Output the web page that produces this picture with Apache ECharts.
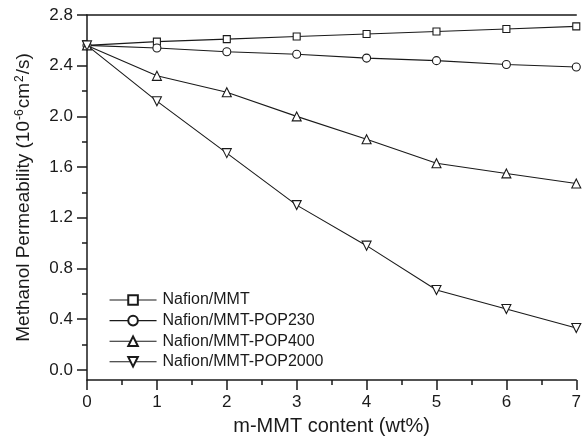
<!DOCTYPE html>
<html>
<head>
    <meta charset="utf-8">
    <title>Methanol Permeability</title>
    <script src="https://cdn.jsdelivr.net/npm/echarts@6/dist/echarts.min.js"></script>
</head>
<body style="margin:0;">
<div id="main" style="width: 584px;height:441px;"></div>
<script type="text/javascript">
    // x: m-MMT content (wt%)
    var xData = [0, 1, 2, 3, 4, 5, 6, 7];
    var names = ['Nafion/MMT', 'Nafion/MMT-POP230', 'Nafion/MMT-POP400', 'Nafion/MMT-POP2000'];
    var mmt = [2.56, 2.59, 2.61, 2.63, 2.65, 2.67, 2.69, 2.71];
    var pop230 = [2.56, 2.54, 2.51, 2.49, 2.46, 2.44, 2.41, 2.39];
    var pop400 = [2.56, 2.32, 2.19, 2.00, 1.82, 1.63, 1.55, 1.47];
    var pop2000 = [2.56, 2.12, 1.71, 1.30, 0.98, 0.63, 0.48, 0.33];
    var yTicks = [0, 0.4, 0.8, 1.2, 1.6, 2.0, 2.4, 2.8];
    var yMinorTicks = [0.2, 0.6, 1.0, 1.4, 1.8, 2.2, 2.6];

    var ink = '#1a1a1a';
    var font = 'Liberation Sans, Arial, sans-serif';

    function pairs(arr) {
        return arr.map(function (v, i) { return [xData[i], v]; });
    }

    function makeSeries(name, arr, symbol, size) {
        return {
            name: name,
            type: 'line',
            data: pairs(arr),
            symbol: symbol,
            symbolSize: size,
            showAllSymbol: true,
            clip: false,
            lineStyle: {color: ink, width: 1.1},
            itemStyle: {color: '#fff', borderColor: ink, borderWidth: 1.1}
        };
    }

    var myChart = echarts.init(document.getElementById('main'));
    var option = {
        animation: false,
        textStyle: {fontFamily: font, color: ink},
        grid: {left: 87, right: 3, top: 15, bottom: 58},
        legend: {
            orient: 'vertical',
            left: 109,
            top: 292,
            padding: 0,
            itemWidth: 47,
            itemHeight: 12,
            itemGap: 4.6,
            lineStyle: {width: 1.1},
            textStyle: {fontFamily: font, fontSize: 16, color: ink, padding: [0, 0, 0, 1]},
            data: names
        },
        xAxis: [{
            type: 'value',
            min: 0,
            max: 7,
            interval: 1,
            name: 'm-MMT content (wt%)',
            nameLocation: 'middle',
            nameGap: 36,
            nameTextStyle: {fontFamily: font, fontSize: 20, color: ink},
            axisLine: {onZero: false, lineStyle: {color: ink, width: 1.5}},
            axisTick: {show: true, length: 10, lineStyle: {color: ink, width: 1.5}},
            minorTick: {show: true, splitNumber: 2, length: 5, lineStyle: {color: ink, width: 1.5}},
            axisLabel: {fontFamily: font, fontSize: 17, color: ink, margin: 14},
            splitLine: {show: false}
        }, {
            type: 'value',
            position: 'top',
            min: 0,
            max: 7,
            axisLine: {show: true, onZero: false, lineStyle: {color: ink, width: 1.5}},
            axisTick: {show: false},
            axisLabel: {show: false},
            splitLine: {show: false}
        }],
        yAxis: [{
            type: 'value',
            min: -0.08,
            max: 2.8,
            name: '{n|Methanol Permeability (10}{s|-6}{n|cm}{s|2}{n|/s)}',
            nameLocation: 'middle',
            nameGap: 54,
            nameTextStyle: {
                rich: {
                    n: {fontFamily: font, fontSize: 19, color: ink},
                    s: {fontFamily: font, fontSize: 12, color: ink, verticalAlign: 'top', padding: [0, 1, 0, 1]}
                }
            },
            axisLine: {onZero: false, lineStyle: {color: ink, width: 1.5}},
            axisTick: {show: true, length: 10, customValues: yTicks, lineStyle: {color: ink, width: 1.5}},
            axisLabel: {
                fontFamily: font, fontSize: 17, color: ink, margin: 14,
                customValues: yTicks,
                formatter: function (v) { return v.toFixed(1); }
            },
            splitLine: {show: false}
        }, {
            type: 'value',
            min: -0.08,
            max: 2.8,
            position: 'left',
            axisLine: {show: false},
            axisTick: {show: true, length: 5, customValues: yMinorTicks, lineStyle: {color: ink, width: 1.5}},
            axisLabel: {show: false, customValues: yMinorTicks},
            splitLine: {show: false}
        }],
        series: [
            makeSeries(names[0], mmt, 'rect', 7),
            makeSeries(names[1], pop230, 'circle', 8),
            makeSeries(names[2], pop400, 'triangle', 9),
            makeSeries(names[3], pop2000, 'path://M0,0 L10,0 L5,9 Z', 9)
        ]
    };
    myChart.setOption(option);
</script>
</body>
</html>
